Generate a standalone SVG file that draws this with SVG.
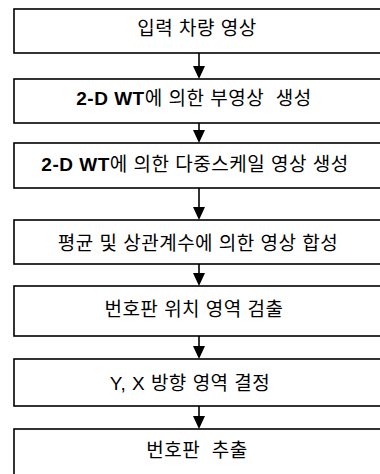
<svg xmlns="http://www.w3.org/2000/svg" width="380" height="474" viewBox="0 0 380 474">
<defs>
<style>
.box{fill:#fff;stroke:#000;stroke-width:1.6}
.lbl{font-family:"Liberation Sans","Noto Sans CJK KR",sans-serif;font-size:19px;letter-spacing:0.5px;fill:#000;text-anchor:middle;dominant-baseline:central}
.lat{font-family:"Liberation Sans",sans-serif;font-weight:bold}
.con{stroke:#000;stroke-width:1.6;fill:none}
.head{fill:#000}
</style>
</defs>
<rect width="380" height="474" fill="#fff"/>
<g id="connectors">
<line class="con" x1="199" y1="53" x2="199" y2="70"/>
<line class="con" x1="199" y1="123" x2="199" y2="134"/>
<line class="con" x1="199" y1="188" x2="199" y2="211"/>
<line class="con" x1="199" y1="264" x2="199" y2="277"/>
<line class="con" x1="199" y1="336" x2="199" y2="350"/>
<line class="con" x1="199" y1="406" x2="199" y2="420"/>
<path class="head" d="M193,66 L205,66 L199,79 Z M193,130 L205,130 L199,143 Z M193,207 L205,207 L199,220 Z M193,273 L205,273 L199,286 Z M193,346 L205,346 L199,359 Z M193,416 L205,416 L199,429 Z"/>
</g>
<g id="n1"><rect class="box" x="14" y="9" width="380" height="44"/><text class="lbl" x="197" y="28">입력 차량 영상</text></g>
<g id="n2"><rect class="box" x="14" y="79" width="380" height="44"/><text class="lbl" x="194" y="98"><tspan class="lat">2-D WT</tspan>에 의한 부영상&#160; 생성</text></g>
<g id="n3"><rect class="box" x="14" y="143" width="380" height="45"/><text class="lbl" x="195" y="164"><tspan class="lat">2-D WT</tspan>에 의한 다중스케일 영상 생성</text></g>
<g id="n4"><rect class="box" x="14" y="220" width="380" height="44"/><text class="lbl" x="198" y="243">평균 및 상관계수에 의한 영상 합성</text></g>
<g id="n5"><rect class="box" x="14" y="286" width="380" height="50"/><text class="lbl" x="194" y="309">번호판 위치 영역 검출</text></g>
<g id="n6"><rect class="box" x="14" y="359" width="380" height="47"/><text class="lbl" x="190" y="383">Y, X 방향 영역 결정</text></g>
<g id="n7"><rect class="box" x="14" y="429" width="380" height="50"/><text class="lbl" x="197" y="450">번호판&#160; 추출</text></g>
</svg>
